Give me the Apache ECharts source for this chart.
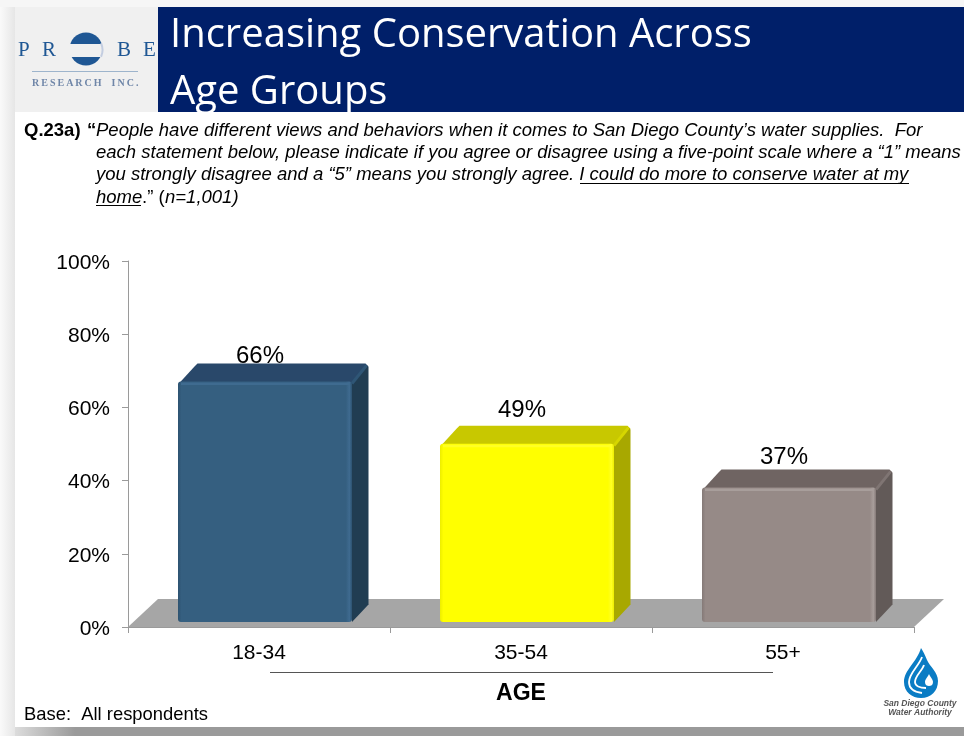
<!DOCTYPE html>
<html><head><meta charset="utf-8">
<style>html,body{margin:0;padding:0;background:#fff}#c{width:964px;height:736px}</style>
<script src="https://cdn.jsdelivr.net/npm/echarts@6/dist/echarts.min.js"></script>
</head><body><div id="c"></div>
<script>
const categories = ['18-34', '35-54', '55+'];
const values = [66, 49, 37];
const yTicks = [0, 20, 40, 60, 80, 100];
const palette = [
  {front:'#355f80', edge:'#2d5270', light:'#3f6b90', top:'#29486a', side:'#213d52', bevel:'#2f5676'},
  {front:'#ffff00', edge:'#eded00', light:'#ffff24', top:'#c8c800', side:'#a8a800', bevel:'#d6d600'},
  {front:'#968a87', edge:'#847977', light:'#a89e9b', top:'#6f6462', side:'#625a58', bevel:'#7f7573'}
];
const labelLift = [29, 37, 34];
const FONT = '"Liberation Sans", Arial, sans-serif';
const SERIF = '"Liberation Serif", serif';
const DEPTH_X = 16.5, DEPTH_Y = 18, SHIFT_X = 6, SHIFT_Y = 4, BAR_W = 174;

const reg = (name, d) => echarts.graphic.registerShape(name, echarts.graphic.extendPath(d, {}));
reg('drop', 'M921 648 C917 662 904 670 904 682 C904 692 912 698 921 698 C931 698 938 691 938 681 C938 672 930 667 927 660 C925 655 923 651 921 648 Z');
reg('swoosh1', 'M922 657 C919 666 909 673 909 682 C909 688 914 692 922 693');
reg('swoosh2', 'M924 665 C922 671 915 676 915 682 C915 686 920 688 926 688');
reg('pearl', 'M929 674 C930 677 933 679 933 682 C933 685 931 686 929 686 C927 686 925 685 925 682 C925 679 928 677 929 674 Z');

function txt(x, y, text, size, extra) {
  return {type:'text', x, y, silent:true, style:Object.assign({text, fontFamily:FONT, fontSize:size, fill:'#000', textVerticalAlign:'middle'}, extra||{})};
}
function line(x1, y1, x2, y2, stroke, w) {
  return {type:'line', silent:true, shape:{x1,y1,x2,y2}, style:{stroke, lineWidth:w||1}};
}
function rect(x, y, w, h, fill) {
  return {type:'rect', silent:true, shape:{x,y,width:w,height:h}, style:{fill}};
}
const grad = (x,y,x2,y2,a,b)=>({type:'linear',x,y,x2,y2,colorStops:[{offset:0,color:a},{offset:1,color:b}]});

const backdrop = [
  rect(0,0,964,736,'#f4f4f4'),
  rect(0,0,15,736,grad(0,0,1,0,'#fafafa','#e6e6e6')),
  rect(0,0,964,7,'#f6f6f6'),
  rect(15,7,949,720,'#ffffff'),
  rect(15,7,143,105,'#f0f0f0'),
  rect(158,7,806,105,'#001f69'),
  rect(15,727,60,9,grad(0,0,1,0,'#dcdcdc','#9a9a9a')),
  rect(75,727,889,9,'#9a9a9a')
];
const logoBlue = '#1f5794';
const header = [
  txt(170,36,'Increasing Conservation Across',40,{fontFamily:'"Open Sans", sans-serif',fill:'#fff'}),
  txt(170,93,'Age Groups',40,{fontFamily:'"Open Sans", sans-serif',fill:'#fff'}),
  txt(18,50,'P',21,{fontFamily:SERIF,fill:logoBlue}),
  txt(42,50,'R',21,{fontFamily:SERIF,fill:logoBlue}),
  txt(117,50,'B',21,{fontFamily:SERIF,fill:logoBlue}),
  txt(143,50,'E',21,{fontFamily:SERIF,fill:logoBlue}),
  {type:'circle',silent:true,shape:{cx:86,cy:49,r:16.5},style:{fill:logoBlue}},
  rect(68,44,36,13,'#f0f0f0'),
  {type:'arc',silent:true,shape:{cx:86,cy:50,r:16.5,startAngle:-0.42,endAngle:0.42,clockwise:true},style:{fill:'none',stroke:'#c3cde0',lineWidth:2}},
  line(32,71.5,138,71.5,'#9db4cc',1),
  txt(32,83,'R\u2009E\u2009S\u2009E\u2009A\u2009R\u2009C\u2009H\u2003I\u2009N\u2009C\u2009.',10,{fontFamily:SERIF,fontWeight:'bold',fill:'#6f86a8'})
];
const q = {fontStyle:'italic'};
const SZ = 18.5;
const question = [
  txt(24,131,'Q.23a)',SZ,{fontWeight:'bold'}),
  txt(87,131,'\u201C',SZ,{fontWeight:'bold'}),
  txt(96,131,'People have different views and behaviors when it comes to San Diego County\u2019s water supplies.  For',SZ,q),
  txt(96,153,'each statement below, please indicate if you agree or disagree using a five-point scale where a \u201C1\u201D means',SZ,q),
  txt(96,175,'you strongly disagree and a \u201C5\u201D means you strongly agree. I could do more to conserve water at my',SZ,q),
  line(580,183.5,909,183.5,'#000',1),
  txt(96,198,'home',SZ,q),
  line(96,205.5,141,205.5,'#000',1),
  txt(142,198,'.\u201D (',SZ),
  txt(165,198,'n=1,001)',SZ,q)
];
const swoosh = {fill:'none',stroke:'#fff',lineWidth:1.8};
const footer = [
  txt(521,694,'AGE',23,{fontWeight:'bold',textAlign:'center'}),
  line(270,672.5,773,672.5,'#555',1),
  txt(24,715,'Base:  All respondents',18.4),
  {type:'drop',silent:true,style:{fill:'#0a7cc4'}},
  {type:'swoosh1',silent:true,style:swoosh},
  {type:'swoosh2',silent:true,style:swoosh},
  {type:'pearl',silent:true,style:{fill:'#fff'}},
  txt(920,704,'San Diego County',8.5,{fontWeight:'bold',fontStyle:'italic',fill:'#555',textAlign:'center'}),
  txt(920,713,'Water Authority',8.5,{fontWeight:'bold',fontStyle:'italic',fill:'#555',textAlign:'center'})
];

function renderFloor(params, api) {
  const o = api.coord([0, 0]);
  const band = api.size([1, 0])[0];
  const l = o[0] - band/2, r = l + band*3, y = o[1];
  return {type:'polygon', silent:true, shape:{points:[[l,y],[l+30,y-28],[r+30,y-28],[r,y]]},
    style:{fill:'#a6a6a6'}};
}
function renderBar(params, api) {
  const i = api.value(0), v = api.value(1), c = palette[i];
  const pTop = api.coord([i, v]), pBase = api.coord([i, 0]);
  const x = pTop[0] - BAR_W/2 + SHIFT_X, y = pTop[1] - SHIFT_Y, b = pBase[1] - 5;
  const w = BAR_W, X = x + w, bx = X + DEPTH_X, by = y - DEPTH_Y;
  return {type:'group', children:[
    {type:'polygon', shape:{points:[[x,y+3],[x+DEPTH_X,by+3],[x+DEPTH_X+3,by],[bx-3,by],[bx,by+3],[X,y+3]]}, style:{fill:c.top}},
    {type:'polygon', shape:{points:[[X,y+1],[bx-1,by+2],[bx,by+4],[bx,b-DEPTH_X-1],[X,b]]}, style:{fill:c.side}},
    {type:'line', shape:{x1:X,y1:y+2,x2:bx-2,y2:by+2}, style:{stroke:c.bevel,lineWidth:3}},
    {type:'rect', shape:{x,y,width:w,height:b-y,r:3}, style:{fill:{type:'linear',x:0,y:0,x2:1,y2:0,colorStops:[
      {offset:0,color:c.edge},{offset:0.02,color:c.front},{offset:0.965,color:c.front},{offset:0.985,color:c.light},{offset:1,color:c.edge}]}}},
    {type:'rect', shape:{x:x+3,y:y+1,width:w-6,height:2.5}, style:{fill:c.light}},
    {type:'text', x:pTop[0]+1, y:pTop[1]-labelLift[i], style:{text:v+'%',fontFamily:FONT,fontSize:24,fill:'#000',textAlign:'center',textVerticalAlign:'middle'}}
  ]};
}

const chart = echarts.init(document.getElementById('c'), null, {renderer:'canvas'});
chart.setOption({
  animation:false,
  backgroundColor:'#fff',
  grid:{left:128,top:261,width:786,height:366,containLabel:false},
  graphic:{elements:[].concat(backdrop,header,question,footer).map(e=>Object.assign({z:-1},e))},
  xAxis:{type:'category',data:categories,boundaryGap:true,
    axisLine:{lineStyle:{color:'#9a9a9a',width:1}},
    axisTick:{show:true,length:6,alignWithLabel:false,lineStyle:{color:'#9a9a9a'}},
    axisLabel:{fontFamily:FONT,fontSize:21,color:'#000',margin:16}},
  yAxis:{type:'value',min:0,max:100,interval:20,
    axisLine:{show:true,lineStyle:{color:'#9a9a9a',width:1}},
    axisTick:{show:true,length:6,lineStyle:{color:'#9a9a9a'}},
    splitLine:{show:false},
    axisLabel:{margin:18,formatter:v=>yTicks.includes(v)?'{t|'+v+'%}':'',
      rich:{t:{fontFamily:FONT,fontSize:21,color:'#000',padding:[4,0,0,0]}}}},
  series:[
    {type:'custom',name:'floor',renderItem:renderFloor,data:[[0,0]],silent:true,z:1,clip:false},
    {type:'custom',name:'Agree',renderItem:renderBar,data:values.map((v,i)=>[i,v]),encode:{x:0,y:1},z:2,clip:false}
  ]
});
</script></body></html>
